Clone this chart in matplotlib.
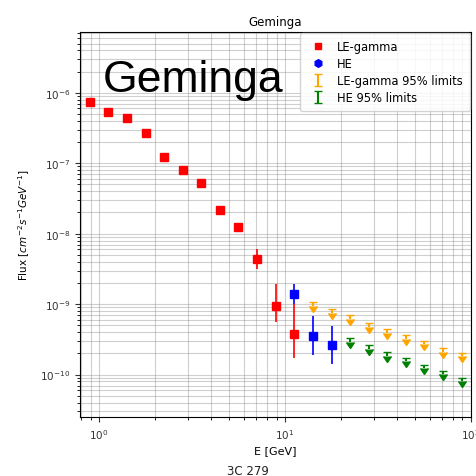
import matplotlib
matplotlib.use("Agg")
import matplotlib.pyplot as plt
from matplotlib.lines import Line2D
import numpy as np

# LE-gamma points
le_E = [0.89, 1.12, 1.41, 1.78, 2.24, 2.82, 3.55, 4.47, 5.62, 7.08, 8.91, 11.2]
le_F = [7.5e-7, 5.4e-7, 4.4e-7, 2.7e-7, 1.24e-7, 7.9e-8, 5.2e-8, 2.2e-8, 1.23e-8, 4.35e-9, 9.4e-10, 3.8e-10]
le_lo = [7.0e-7, 5.0e-7, 4.1e-7, 2.5e-7, 1.14e-7, 7.2e-8, 4.7e-8, 1.95e-8, 1.05e-8, 3.13e-9, 5.6e-10, 1.73e-10]
le_hi = [8.0e-7, 5.8e-7, 4.7e-7, 2.9e-7, 1.34e-7, 8.6e-8, 5.7e-8, 2.45e-8, 1.42e-8, 6.0e-9, 1.92e-9, 1.0e-9]

# HE points
he_E = [11.2, 14.1, 17.8]
he_F = [1.39e-9, 3.5e-10, 2.64e-10]
he_lo = [1.0e-9, 1.9e-10, 1.42e-10]
he_hi = [1.92e-9, 6.8e-10, 4.9e-10]

# LE-gamma 95% upper limits
leul_E = [14.1, 17.8, 22.4, 28.2, 35.5, 44.7, 56.2, 70.8, 89.1]
leul_F = [9.7e-10, 7.7e-10, 6.35e-10, 4.9e-10, 4.0e-10, 3.3e-10, 2.73e-10, 2.17e-10, 1.85e-10]

# HE 95% upper limits
heul_E = [22.4, 28.2, 35.5, 44.7, 56.2, 70.8, 89.1]
heul_F = [3.0e-10, 2.39e-10, 1.9e-10, 1.57e-10, 1.25e-10, 1.03e-10, 8.2e-11]

plt.rcParams['font.family'] = ['DejaVu Sans']
fig = plt.figure(figsize=(4.76, 4.77), dpi=100)
ax = fig.add_axes([80/476, 1-418/477, (471-80)/476, (418-33)/477])

le_F_a = np.array(le_F)
he_F_a = np.array(he_F)
ax.errorbar(le_E, le_F, yerr=[le_F_a - np.array(le_lo), np.array(le_hi) - le_F_a],
            fmt='s', color='red', ms=6, elinewidth=1.2, zorder=3)
ax.errorbar(he_E, he_F, yerr=[he_F_a - np.array(he_lo), np.array(he_hi) - he_F_a],
            fmt='s', color='blue', ms=6, elinewidth=1.2, zorder=3)
ul1 = ax.errorbar(leul_E, np.array(leul_F) * 1.1, yerr=np.array(leul_F) * 0.12, uplims=True,
                  fmt='none', color='orange', ecolor='orange', capsize=3, elinewidth=1.5, zorder=3)
ul2 = ax.errorbar(heul_E, np.array(heul_F) * 1.1, yerr=np.array(heul_F) * 0.12, uplims=True,
                  fmt='none', color='green', ecolor='green', capsize=3, elinewidth=1.5, zorder=3)
for cont, col in ((ul1, 'orange'), (ul2, 'green')):
    for cl in cont[1]:
        cl.set_markerfacecolor(col)
        cl.set_markeredgecolor(col)

ax.set_xscale('log')
ax.set_yscale('log')
ax.set_xlim(0.79, 100)
ax.set_ylim(2.5e-11, 7.3e-6)
ax.grid(True, which='both', color='#888888', alpha=0.4, linewidth=0.8)
ax.tick_params(labelsize=7.5, colors='#333333')
ax.set_title('Geminga', fontsize=8.5, pad=5)
ax.set_xlabel('E [GeV]', fontsize=8, labelpad=3)
ax.set_ylabel(r'Flux [$cm^{-2}s^{-1}GeV^{-1}$]', fontsize=7.5, labelpad=6)

h_le = Line2D([], [], marker='s', color='red', ls='none', ms=5)
h_he = Line2D([], [], marker='h', color='blue', ls='none', ms=5.5)
leg = ax.legend([h_le, h_he, ul1, ul2],
                ['LE-gamma', 'HE', 'LE-gamma 95% limits', 'HE 95% limits'],
                loc='upper right', fontsize=8.3, borderaxespad=0.1, framealpha=0.85,
                handlelength=1.8, labelspacing=0.35, borderpad=0.6)

fig.text(103/476, 1-92/477, 'Geminga', fontsize=32, family='Liberation Sans',
         color='black', va='baseline', ha='left')
fig.text(248/476, 1-472/477, '3C 279', fontsize=8.5, ha='center', va='center', color='#222222')

fig.savefig('out.png', dpi=100)
